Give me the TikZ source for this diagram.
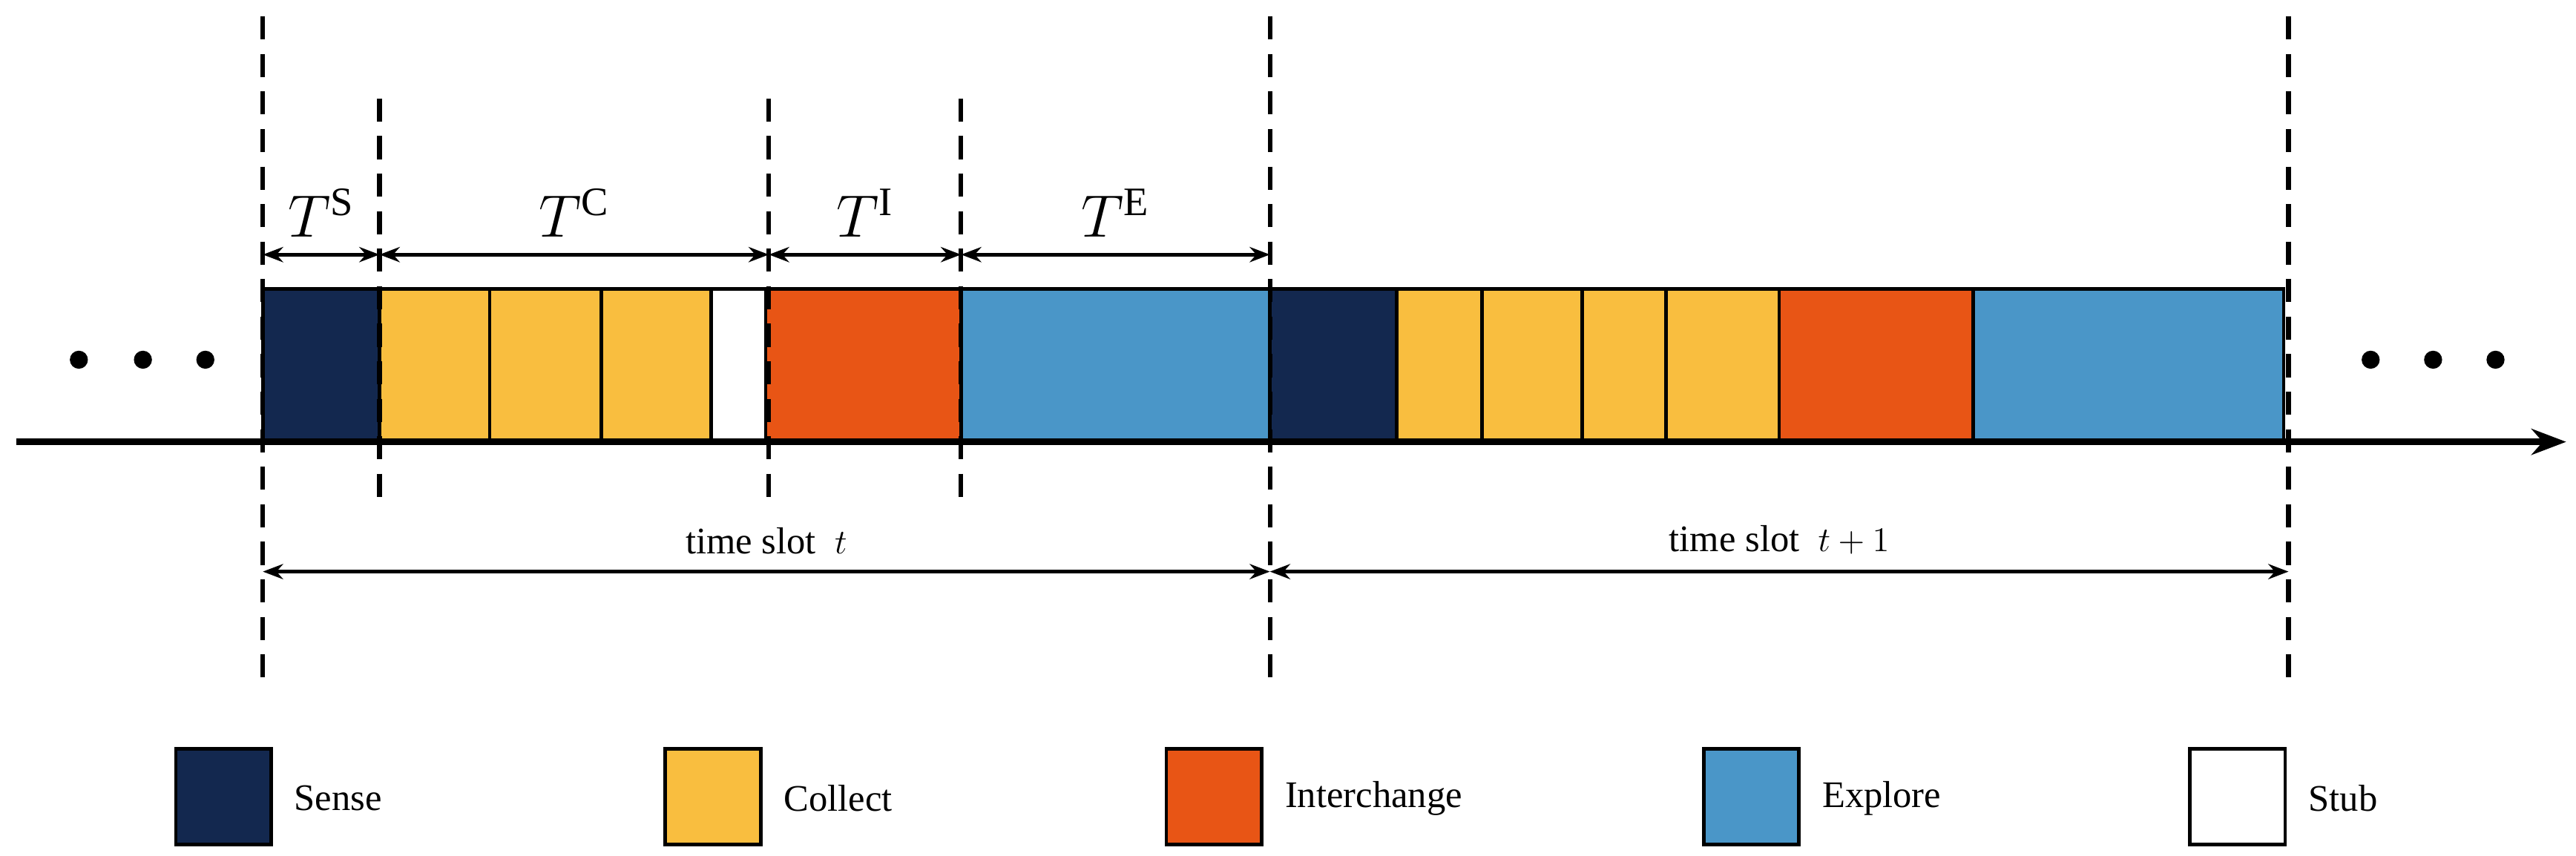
\documentclass[tikz,border=0pt]{standalone}
\usepackage{fontspec}
\setmainfont{Liberation Serif}
\usetikzlibrary{arrows.meta}
\definecolor{senseC}{HTML}{13284F}
\definecolor{collectC}{HTML}{F9BE3F}
\definecolor{interC}{HTML}{E85515}
\definecolor{exploreC}{HTML}{4A96C8}
\tikzset{
  blk/.style={draw=black, line width=1.2pt},
  bound/.style={line width=1.6pt, dash pattern=on 8pt off 5pt},
  span/.style={line width=1.4pt, {Stealth[length=7pt]}-{Stealth[length=7pt]}},
  lbl/.style={font=\fontsize{13}{15}\selectfont},
  tlbl/.style={font=\fontsize{20}{22}\selectfont},
}
\begin{document}
\begin{tikzpicture}[x=0.2mm, y=-0.2mm]
\useasboundingbox (0,0) rectangle (1568,521);
% slot t
\fill[senseC] (160,176) rectangle (231,268);
\foreach \a/\b in {231/298, 298/366, 366/433} {
  \draw[blk, fill=collectC] (\a,176) rectangle (\b,268);
}
\draw[blk, fill=white] (433,176) rectangle (466,268);
\draw[blk, fill=interC] (466,176) rectangle (585,268);
\draw[blk, fill=exploreC] (585,176) rectangle (773,268);
\draw[blk] (160,176) rectangle (231,268);
% slot t+1
\draw[blk, fill=senseC] (773,176) rectangle (850,268);
\foreach \a/\b in {850/902, 902/963, 963/1014, 1014/1083} {
  \draw[blk, fill=collectC] (\a,176) rectangle (\b,268);
}
\draw[blk, fill=interC] (1083,176) rectangle (1201,268);
\draw[blk, fill=exploreC] (1201,176) rectangle (1390,268);
% time axis
\coordinate (ax0) at (10,269);
\coordinate (ax1) at (1562,269);
\draw[line width=2.2pt, -{Stealth[length=12pt]}] (ax0) -- (ax1);
% dots
\foreach \x in {48,87,125,1443,1481,1519} {
  \fill (\x,219) circle (5.5);
}
% dashed boundaries
\foreach \x in {160,773,1393} {
  \draw[bound] (\x,10) -- (\x,415);
}
\foreach \x in {231,468,585} {
  \draw[bound] (\x,60) -- (\x,305);
}
% phase durations
\coordinate (p0) at (160,155);
\coordinate (p1) at (231,155);
\coordinate (p2) at (468,155);
\coordinate (p3) at (585,155);
\coordinate (p4) at (773,155);
\draw[span] (p0) -- (p1) node[midway, above=2pt, tlbl] {$T^{\mathrm{S}}$};
\draw[span] (p1) -- (p2) node[midway, above=2pt, tlbl] {$T^{\mathrm{C}}$};
\draw[span] (p2) -- (p3) node[midway, above=2pt, tlbl] {$T^{\mathrm{I}}$};
\draw[span] (p3) -- (p4) node[midway, above=2pt, tlbl] {$T^{\mathrm{E}}$};
% slots
\coordinate (s0) at (160,348);
\coordinate (s1) at (773,348);
\coordinate (s2) at (1393,348);
\draw[span] (s0) -- (s1) node[midway, above=2pt, lbl] {time slot\ \ $t$};
\draw[span] (s1) -- (s2) node[midway, above=2pt, lbl] {time slot\ \ $t+1$};
% legend
\foreach \x/\c/\t in {107/senseC/Sense, 405/collectC/Collect, 710/interC/Interchange, 1037/exploreC/Explore, 1333/white/Stub} {
  \draw[blk, fill=\c] (\x,456) rectangle ++(58,58);
  \node[lbl, anchor=west] at (\x+66,486) {\t};
}
\end{tikzpicture}
\end{document}
